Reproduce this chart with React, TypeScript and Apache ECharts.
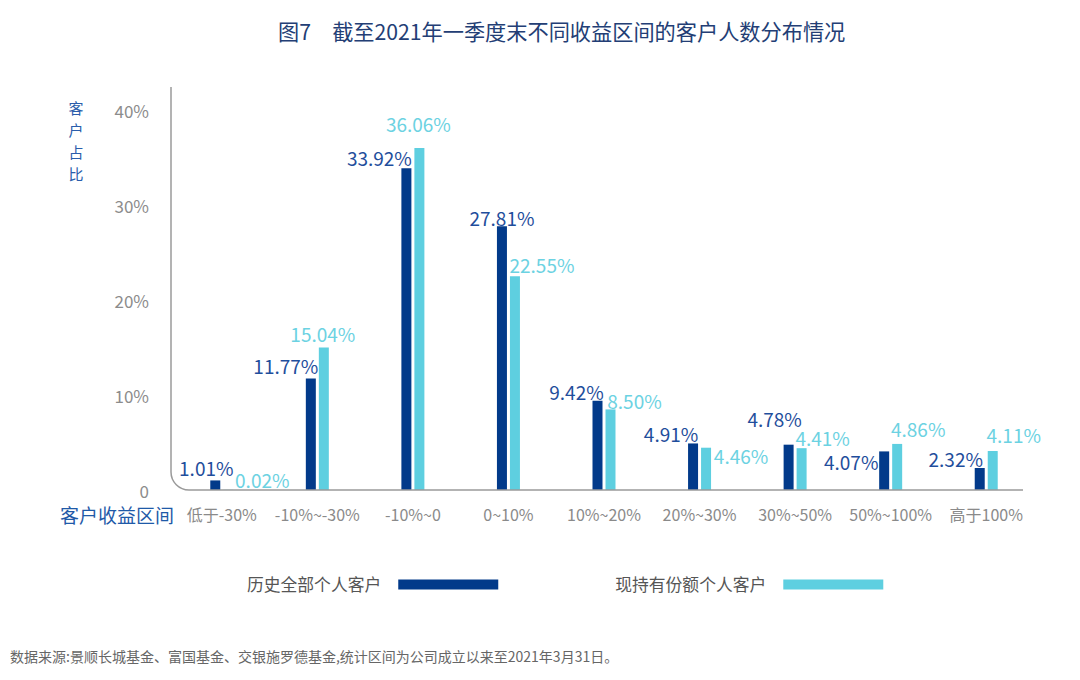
import React, { useEffect, useRef } from "react";
import * as echarts from "echarts";

const categories = ["低于-30%", "-10%~-30%", "-10%~0", "0~10%", "10%~20%", "20%~30%", "30%~50%", "50%~100%", "高于100%"];
const historyAll = [1.01, 11.77, 33.92, 27.81, 9.42, 4.91, 4.78, 4.07, 2.32];
const currentHolders = [0.02, 15.04, 36.06, 22.55, 8.5, 4.46, 4.41, 4.86, 4.11];
const seriesNames = ["历史全部个人客户", "现持有份额个人客户"];
const yMin = 0;
const yMax = 40;
const yInterval = 10;

const titleText = "图7　截至2021年一季度末不同收益区间的客户人数分布情况";
const yName = "客户占比";
const xName = "客户收益区间";
const sourceText = "数据来源:景顺长城基金、富国基金、交银施罗德基金,统计区间为公司成立以来至2021年3月31日。";

// label placement styling (text centre relative to bar top centre)
const darkLabelOffsets = [[-9, -13], [-25, -13], [-27, -11], [0, -9], [-21, -9], [-22, -10], [-14, -26], [-33, 10], [-24, -10]];
const lightLabelOffsets = [[34, -10], [-1, -14], [-1, -25], [27, -12], [24, -9], [35, 8], [21, -11], [21, -15], [21, -17]];

const FONT = "'Noto Sans CJK SC', 'Noto Sans', sans-serif";
const DARK = "#023a8a";
const LIGHT = "#5ecfe0";
const DARK_TEXT = "#1f4e9c";
const LIGHT_TEXT = "#6cd2e2";
const AXIS_GRAY = "#9a9a9a";

export default function App() {
  const ref = useRef<HTMLDivElement>(null);
  useEffect(() => {
    if (!ref.current) return;
    const chart = echarts.init(ref.current, null, { renderer: "svg" });
    const labelBase = {
      show: true,
      position: "top",
      distance: 0,
      align: "center",
      verticalAlign: "middle",
      fontSize: 19,
      fontFamily: FONT,
      formatter: (p: any) => Number(p.value).toFixed(2) + "%",
    };
    const yNameTexts = yName.split("").map((ch, i) => ({
      type: "text",
      x: 76,
      y: 107 + i * 22,
      style: {
        text: ch,
        fontSize: 15,
        fill: "#2a5dab",
        align: "center",
        verticalAlign: "middle",
        fontFamily: FONT,
      },
    }));
    chart.setOption({
      animation: false,
      textStyle: { fontFamily: FONT },
      title: {
        text: titleText,
        left: 273,
        top: 15,
        textStyle: { fontSize: 21.2, fontWeight: "normal", color: "#233e75", fontFamily: FONT },
      },
      legend: {
        left: 242,
        top: 571,
        align: "right",
        itemWidth: 100,
        itemHeight: 10,
        itemGap: 117,
        icon: "rect",
        textStyle: { fontSize: 16.8, color: "#555", fontFamily: FONT, padding: [0, 12, 0, 0] },
        data: seriesNames,
      },
      grid: { left: 174, right: 46, top: 110.7, bottom: 190, containLabel: false },
      xAxis: {
        type: "category",
        data: categories,
        axisLine: { show: false },
        axisTick: { show: false },
        axisLabel: { color: "#8a8a8a", fontSize: 16, margin: 16, fontFamily: FONT, interval: 0 },
      },
      yAxis: {
        type: "value",
        min: yMin,
        max: yMax,
        interval: yInterval,
        splitLine: { show: false },
        axisLine: { show: false },
        axisTick: { show: false },
        axisLabel: {
          color: "#8c8c8c",
          fontSize: 17,
          margin: 25,
          fontFamily: FONT,
          formatter: (v: number) => (v === 0 ? "0" : v + "%"),
        },
      },
      series: [
        {
          name: seriesNames[0],
          type: "bar",
          barWidth: 10,
          barGap: "30%",
          itemStyle: { color: DARK },
          label: { ...labelBase, color: DARK_TEXT },
          data: historyAll.map((v, i) => ({ value: v, label: { offset: darkLabelOffsets[i] } })),
        },
        {
          name: seriesNames[1],
          type: "bar",
          barWidth: 10,
          barGap: "30%",
          itemStyle: { color: LIGHT },
          label: { ...labelBase, color: LIGHT_TEXT },
          data: currentHolders.map((v, i) => ({ value: v, label: { offset: lightLabelOffsets[i] } })),
        },
      ],
      graphic: [
        { type: "line", shape: { x1: 171, y1: 87, x2: 171, y2: 472 }, style: { stroke: AXIS_GRAY, lineWidth: 1.5 }, z: 10 },
        {
          type: "arc",
          shape: { cx: 189, cy: 472, r: 18, startAngle: Math.PI / 2, endAngle: Math.PI, clockwise: true },
          style: { stroke: AXIS_GRAY, lineWidth: 1.5, fill: "none" },
          z: 10,
        },
        { type: "line", shape: { x1: 189, y1: 490, x2: 1023, y2: 490 }, style: { stroke: AXIS_GRAY, lineWidth: 1.5 }, z: 10 },
        ...yNameTexts,
        {
          type: "text",
          x: 60,
          y: 514,
          style: { text: xName, fontSize: 19, fill: "#1f5aa8", verticalAlign: "middle", fontFamily: FONT },
        },
        {
          type: "text",
          x: 10,
          y: 656,
          style: { text: sourceText, fontSize: 14, fill: "#666", verticalAlign: "middle", fontFamily: FONT },
        },
      ],
    });
    return () => chart.dispose();
  }, []);
  return <div ref={ref} style={{ position: "fixed", left: 0, top: 0, width: 1080, height: 680, background: "#fff" }} />;
}
